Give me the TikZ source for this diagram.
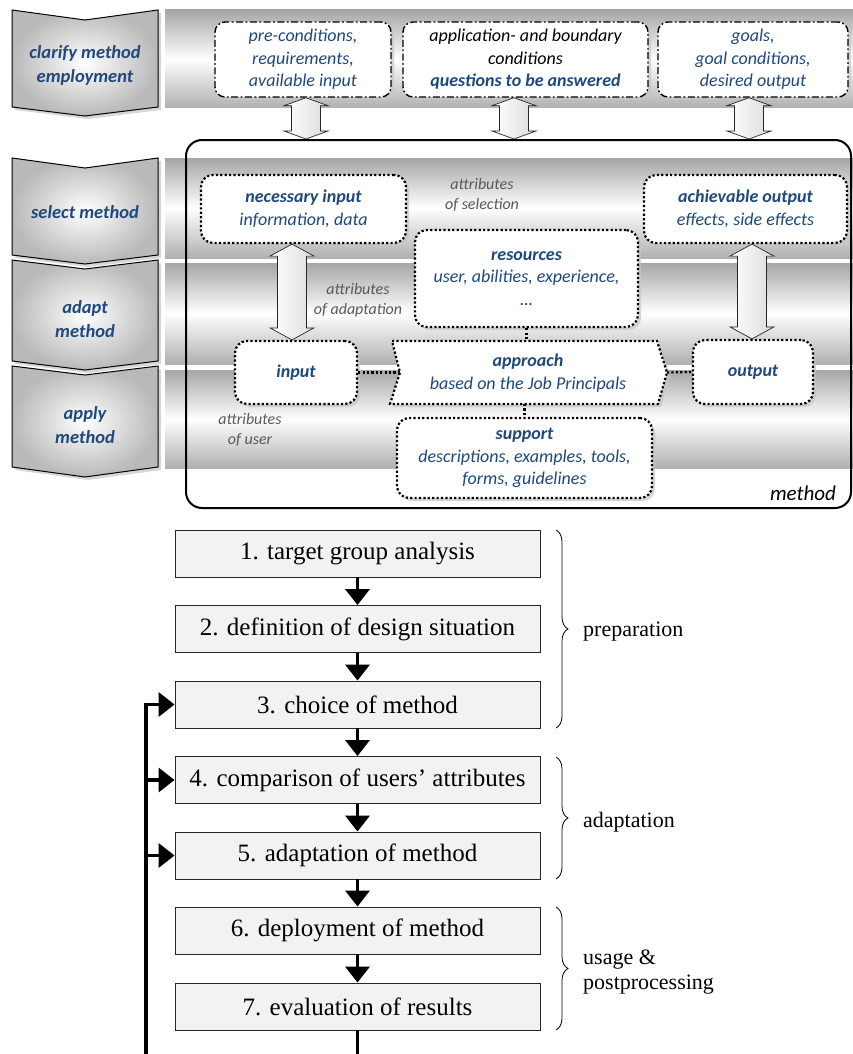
\documentclass[tikz,border=0pt]{standalone}
\usepackage{fontspec}
\setmainfont{Liberation Serif}
\newfontfamily\calib{Carlito}
\usetikzlibrary{shadows,calc,decorations.pathreplacing,arrows.meta}
\definecolor{tblue}{RGB}{31,73,125}
\definecolor{tgray}{RGB}{89,89,89}
\tikzset{
  band/.style={draw=none, top color=gray!70, bottom color=gray!62, middle color=white},
  shad/.style={drop shadow={shadow xshift=3pt,shadow yshift=-3pt,fill=gray!45,opacity=.7}},
  chev/.style={draw=black, line width=1pt, inner color=white, outer color=gray!55, shad},
  chevtxt/.style={font=\calib\bfseries\itshape\fontsize{18.5}{24}\selectfont, text=tblue, align=center},
  intxt/.style={align=center, inner sep=0pt, font=\calib\itshape\fontsize{18}{22.5}\selectfont, text=tblue},
  ddbox/.style={intxt, draw, line width=1.4pt, dash pattern=on 7pt off 2.5pt on 1.8pt off 2.5pt,
    rounded corners=10pt, fill=white, shad},
  dotbox/.style={intxt, draw, line width=2.2pt, dash pattern=on 2.2pt off 2.2pt,
    rounded corners=12pt, fill=white, shad},
  dotline/.style={line width=2.2pt, dash pattern=on 2.2pt off 2.2pt},
  attr/.style={font=\calib\itshape\fontsize{16}{19.5}\selectfont, text=tgray, align=center},
  barrow/.style={draw=black!85, line width=0.7pt, left color=white, right color=gray!28},
  methodbox/.style={draw, line width=2pt, rounded corners=16pt, minimum width=665pt, minimum height=368pt},
  fbox/.style={draw=black!85, line width=0.9pt, fill=black!5, minimum width=365pt, minimum height=47pt,
    inner sep=0pt, font=\fontsize{25}{29}\selectfont},
  farrow/.style={line width=3.6pt, -{Triangle[width=24pt,length=16pt]}},
  fline/.style={line width=3.6pt},
  brc/.style={decorate, decoration={brace, amplitude=12pt}, line width=0.8pt},
  blabel/.style={font=\fontsize{22}{25}\selectfont, anchor=west, align=left, inner sep=0pt}
}
\newcommand\dblarr[3]{% #1 top tip, #2 bottom tip, #3 head length
  \path[barrow] let \p1=(#1), \p2=(#2) in
    (\x1,\y1) -- (\x1+22pt,\y1-#3) -- (\x1+14.5pt,\y1-#3) -- (\x1+14.5pt,\y2+#3)
    -- (\x1+22pt,\y2+#3) -- (\x1,\y2) -- (\x1-22pt,\y2+#3) -- (\x1-14.5pt,\y2+#3)
    -- (\x1-14.5pt,\y1-#3) -- (\x1-22pt,\y1-#3) -- cycle;}
\begin{document}
\begin{tikzpicture}[x=1pt,y=-1pt]
\useasboundingbox (0,0) rectangle (853,1054);
% bands
\fill[band] (165,10) rectangle (853,108);
\fill[band] (165,158) rectangle (853,258);
\fill[band] (165,263) rectangle (853,364);
\fill[band] (165,370) rectangle (853,468);
% chevrons
\path[chev] (12,10) -- (85,20) -- (158,10) -- (158,107) -- (85,116) -- (12,107) -- cycle;
\path[chev] (12,158) -- (85,168) -- (158,158) -- (158,255) -- (85,264) -- (12,255) -- cycle;
\path[chev] (12,260) -- (85,269) -- (158,260) -- (158,361) -- (85,370) -- (12,361) -- cycle;
\path[chev] (12,366) -- (85,375) -- (158,366) -- (158,467) -- (85,477) -- (12,467) -- cycle;
\node[chevtxt] (c1) at (85,65) {clarify method\\employment};
\node[chevtxt] (c2) at (85,212) {select method};
\node[chevtxt] (c3) at (85,319) {adapt\\method};
\node[chevtxt] (c4) at (85,425) {apply\\method};
% top boxes
\node[ddbox, minimum width=176pt, minimum height=75pt] (A) at (303,59.5)
  {pre-conditions,\\requirements,\\available input};
\node[ddbox, minimum width=245pt, minimum height=75pt] (B) at (525.5,59.5)
  {\textcolor{black}{application- and boundary}\\\textcolor{black}{conditions}\\\textbf{questions to be answered}};
\node[ddbox, minimum width=190pt, minimum height=75pt] (C) at (753,59.5)
  {goals,\\goal conditions,\\desired output};
% method box
\node[methodbox] (M) at (518.5,324) {};
\node[font=\calib\itshape\fontsize{21}{25}\selectfont, anchor=base] (ml) at (803,500) {method};
% top block arrows
\coordinate (ax) at (306,0);
\coordinate (bx) at (514,0);
\coordinate (cx) at (749,0);
\dblarr{ax |- A.south}{ax |- M.north}{8pt}
\dblarr{bx |- B.south}{bx |- M.north}{8pt}
\dblarr{cx |- C.south}{cx |- M.north}{8pt}
% inner boxes
\node[dotbox, minimum width=205pt, minimum height=68pt] (NI) at (303.5,209)
  {\textbf{necessary input}\\information, data};
\node[dotbox, minimum width=203pt, minimum height=68pt] (AO) at (745.5,209)
  {\textbf{achievable output}\\effects, side effects};
\node[dotbox, minimum width=223pt, minimum height=97pt] (RS) at (526.5,278.5)
  {\textbf{resources}\\user, abilities, experience,\\\dots};
\node[dotbox, minimum width=122pt, minimum height=63pt] (IN) at (296,372.5)
  {\textbf{input}};
\node[dotbox, minimum width=120pt, minimum height=64pt] (OUT) at (753,372)
  {\textbf{output}};
\node[dotbox, minimum width=255pt, minimum height=80pt] (SU) at (524.5,458)
  {\textbf{support}\\descriptions, examples, tools,\\forms, guidelines};
% approach (chevron shape)
\path[draw, line width=2.2pt, dash pattern=on 2.2pt off 2.2pt, fill=white, shad]
  (392,341) -- (657,341) -- (667,372.5) -- (658,404) -- (390,404) -- (400,372.5) -- cycle;
\node[intxt] (AP) at (528,373)
  {\textbf{approach}\\based on the Job Principals};
\coordinate (APl) at (400,372.5);
\coordinate (APr) at (667,372.5);
\coordinate (APt) at (526.5,341);
\coordinate (APb) at (524.5,404);
% dotted connectors
\draw[dotline] (IN.east) -- (APl);
\draw[dotline] (APr) -- (OUT.west);
\draw[dotline] (RS.south) -- (APt);
\draw[dotline] (APb) -- (SU.north);
% inner block arrows
\coordinate (dx) at (292,0);
\coordinate (ex) at (752,0);
\dblarr{dx |- NI.south}{dx |- IN.north}{12pt}
\dblarr{ex |- AO.south}{ex |- OUT.north}{12pt}
% attribute labels
\node[attr] (at1) at (482,195) {attributes\\of selection};
\node[attr] (at2) at (358,300) {attributes\\of adaptation};
\node[attr] (at3) at (250,430) {attributes\\of user};
% flowchart
\node[fbox] (s1) at (357.5,553.5) {1. target group analysis};
\node[fbox] (s2) at (357.5,629) {2. definition of design situation};
\node[fbox] (s3) at (357.5,704.5) {3. choice of method};
\node[fbox] (s4) at (357.5,780) {4. comparison of users’ attributes};
\node[fbox] (s5) at (357.5,855.5) {5. adaptation of method};
\node[fbox] (s6) at (357.5,930.5) {6. deployment of method};
\node[fbox] (s7) at (357.5,1006.5) {7. evaluation of results};
\draw[farrow] (s1) -- (s2);
\draw[farrow] (s2) -- (s3);
\draw[farrow] (s3) -- (s4);
\draw[farrow] (s4) -- (s5);
\draw[farrow] (s5) -- (s6);
\draw[farrow] (s6) -- (s7);
\coordinate (bot) at (357.5,1056);
\coordinate (Lb) at (146,1056);
\draw[fline] (s7.south) -- (bot);
\draw[farrow, line join=miter] (Lb) |- (s3.west);
\draw[farrow] (Lb |- s4.west) -- (s4.west);
\draw[farrow] (Lb |- s5.west) -- (s5.west);
% braces
\draw[brc] (556,530) -- (556,728);
\draw[brc] (556,757) -- (556,879);
\draw[brc] (556,907) -- (556,1030);
\node[blabel] (p1) at (583,632) {preparation};
\node[blabel] (p2) at (583,822) {adaptation};
\node[blabel] (p3) at (583,972) {usage \&\\postprocessing};
\end{tikzpicture}
\end{document}
